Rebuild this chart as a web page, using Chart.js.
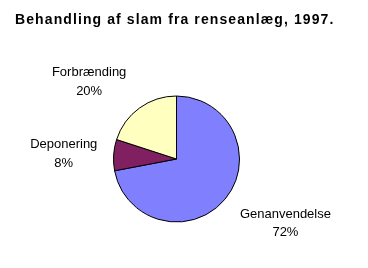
<!DOCTYPE html>
<html>
<head>
<meta charset="utf-8">
<script src="https://cdn.jsdelivr.net/npm/chart.js@4"></script>
<style>
html,body{margin:0;padding:0;background:#fff;}
#wrap{width:368px;height:268px;position:relative;}
canvas{display:block;}
</style>
</head>
<body>
<div id="wrap"><canvas id="c" width="368" height="268"></canvas></div>
<script>
// ---- data ----
const titleText = "Behandling af slam fra renseanlæg, 1997.";
const categories = ["Genanvendelse", "Deponering", "Forbrænding"];
const shares = [72, 8, 20];
const valueLabels = ["72%", "8%", "20%"];

// ---- style ----
const sliceColors = ["#8080FF", "#802060", "#FFFFC0"];
const labelNudge = [[18, -11], [5, 2], [-18, 18]];
const labelGap = 55;

const labelPlugin = {
  id: 'pieLabels',
  afterDraw(chart) {
    const ctx = chart.ctx;
    ctx.save();
    // title
    ctx.font = 'bold 14px "Liberation Sans", Arial, sans-serif';
    ctx.letterSpacing = '1.1px';
    ctx.fillStyle = '#000';
    ctx.textAlign = 'left';
    ctx.textBaseline = 'alphabetic';
    ctx.fillText(titleText, 15, 24);
    ctx.letterSpacing = '0px';
    // slice labels
    ctx.font = '13px "Liberation Sans", Arial, sans-serif';
    ctx.textAlign = 'center';
    ctx.textBaseline = 'middle';
    const meta = chart.getDatasetMeta(0);
    meta.data.forEach((arc, i) => {
      const p = arc.getProps(['x', 'y', 'startAngle', 'endAngle', 'outerRadius'], true);
      const mid = (p.startAngle + p.endAngle) / 2;
      const R = p.outerRadius + labelGap;
      const cx = p.x + Math.cos(mid) * R + labelNudge[i][0];
      const cy = p.y + Math.sin(mid) * R + labelNudge[i][1];
      ctx.fillText(categories[i], cx, cy - 9);
      ctx.fillText(valueLabels[i], cx, cy + 9.5);
    });
    ctx.restore();
  }
};

new Chart(document.getElementById('c'), {
  type: 'pie',
  data: {
    labels: categories,
    datasets: [{
      data: shares,
      backgroundColor: sliceColors,
      borderColor: '#000',
      borderWidth: 1
    }]
  },
  options: {
    responsive: false,
    devicePixelRatio: 1,
    animation: false,
    layout: { padding: { left: 113, right: 128, top: 95, bottom: 45 } },
    plugins: {
      legend: { display: false },
      tooltip: { enabled: false },
      title: { display: false }
    }
  },
  plugins: [labelPlugin]
});
</script>
</body>
</html>
